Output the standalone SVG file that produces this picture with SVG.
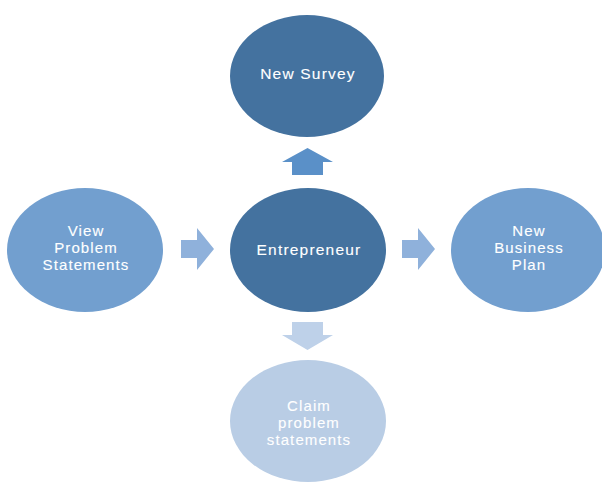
<svg xmlns="http://www.w3.org/2000/svg" width="602" height="483" viewBox="0 0 602 483">
<style>
text{font-family:"Liberation Sans","Open Sans",sans-serif;fill:#ffffff;stroke:#ffffff;stroke-width:0.12px;text-anchor:middle;font-size:15px;letter-spacing:1.1px}
.big{font-size:15.5px;letter-spacing:1.2px}
.dark{fill:#44729f}
.mid{fill:#729fcf}
.light{fill:#b9cde5}
</style>
<rect width="602" height="483" fill="#ffffff"/>
<g id="connectors">
<path d="M292,175 L292,162 L282,162 L307.5,148 L333,162 L323,162 L323,175 Z" fill="#5a90c8"/>
<path d="M181,240 L197,240 L197,228 L214,249 L197,270 L197,258 L181,258 Z" fill="#8fb1db"/>
<path d="M402,240 L418,240 L418,228 L435,249 L418,270 L418,258 L402,258 Z" fill="#8fb1db"/>
<path d="M292,322 L323,322 L323,335 L333,335 L307.5,350 L282,335 L292,335 Z" fill="#bed1e9"/>
</g>
<g id="new-survey">
<ellipse class="dark" cx="307" cy="76" rx="77" ry="61"/>
<text class="big" x="308" y="79">New Survey</text>
</g>
<g id="view-problem">
<ellipse class="mid" cx="85" cy="250" rx="78" ry="62"/>
<text x="86" y="236">View</text>
<text x="86" y="253">Problem</text>
<text x="86" y="270">Statements</text>
</g>
<g id="entrepreneur">
<ellipse class="dark" cx="308" cy="250" rx="78" ry="62"/>
<text class="big" x="309" y="255">Entrepreneur</text>
</g>
<g id="business-plan">
<ellipse class="mid" cx="528" cy="250" rx="77" ry="62"/>
<text x="529" y="236">New</text>
<text x="529" y="253">Business</text>
<text x="529" y="270">Plan</text>
</g>
<g id="claim-problem">
<ellipse class="light" cx="308" cy="421" rx="78" ry="61"/>
<text x="309" y="411">Claim</text>
<text x="309" y="428">problem</text>
<text x="309" y="445">statements</text>
</g>
</svg>
